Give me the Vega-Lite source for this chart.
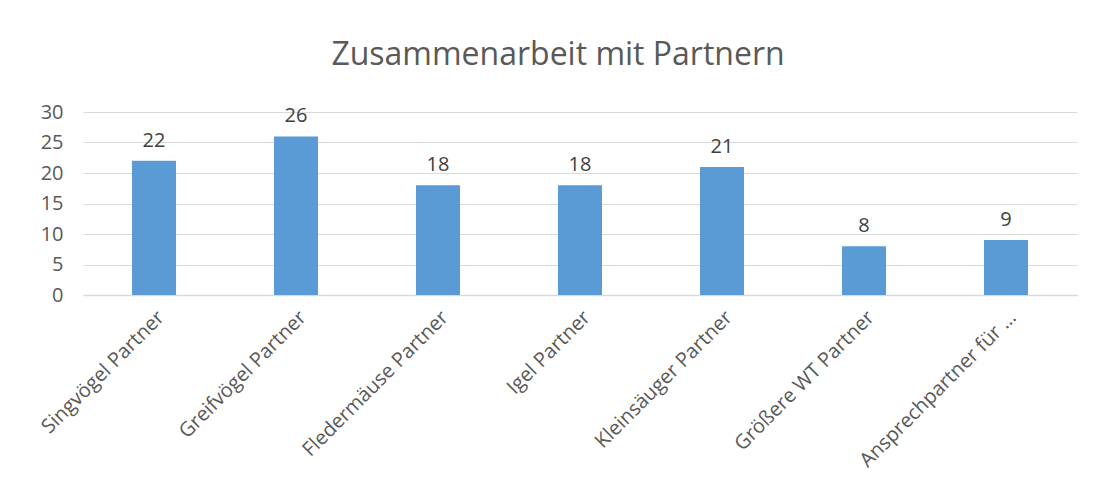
{
  "$schema": "https://vega.github.io/schema/vega-lite/v6.json",
  "width": 994,
  "height": 183,
  "autosize": "none",
  "padding": {"left": 83, "top": 112, "right": 16, "bottom": 189},
  "background": "white",
  "title": {
    "text": "Zusammenarbeit mit Partnern",
    "font": "Open Sans",
    "fontSize": 32,
    "fontWeight": "normal",
    "color": "#595959",
    "anchor": "middle",
    "dx": -22,
    "offset": 30
  },
  "data": {
    "values": [
      {"kategorie": "Singvögel Partner", "anzahl": 22},
      {"kategorie": "Greifvögel Partner", "anzahl": 26},
      {"kategorie": "Fledermäuse Partner", "anzahl": 18},
      {"kategorie": "Igel Partner", "anzahl": 18},
      {"kategorie": "Kleinsäuger Partner", "anzahl": 21},
      {"kategorie": "Größere WT Partner", "anzahl": 8},
      {"kategorie": "Ansprechpartner für …", "anzahl": 9}
    ]
  },
  "encoding": {
    "x": {
      "field": "kategorie",
      "type": "nominal",
      "sort": null,
      "scale": {"paddingInner": 0.69, "paddingOuter": 0.345},
      "axis": {
        "title": null,
        "labelAngle": -45,
        "labelFont": "Open Sans",
        "labelFontSize": 20,
        "labelColor": "#595959",
        "labelPadding": 12,
        "ticks": false,
        "domainColor": "#d9d9d9",
        "domainWidth": 1.5,
        "labelLimit": 300
      }
    },
    "y": {
      "field": "anzahl",
      "type": "quantitative",
      "scale": {"domain": [0, 30]},
      "axis": {
        "title": null,
        "values": [0, 5, 10, 15, 20, 25, 30],
        "labelFont": "Open Sans",
        "labelFontSize": 20,
        "labelColor": "#595959",
        "labelPadding": 20,
        "ticks": false,
        "domain": false,
        "gridColor": "#d9d9d9",
        "gridWidth": 1.2
      }
    }
  },
  "layer": [
    {"mark": {"type": "bar", "color": "#5b9bd5"}},
    {
      "mark": {"type": "text", "baseline": "bottom", "dy": -10, "font": "Open Sans", "fontSize": 20, "color": "#404040"},
      "encoding": {"text": {"field": "anzahl", "type": "quantitative"}}
    }
  ],
  "config": {"view": {"stroke": null}}
}
